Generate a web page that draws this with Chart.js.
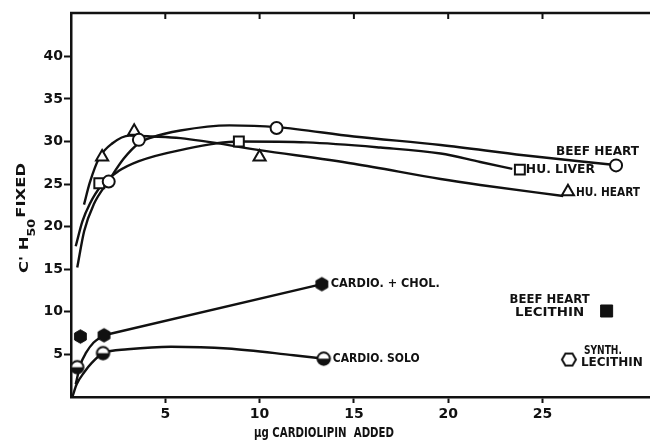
<!DOCTYPE html>
<html><head><meta charset="utf-8">
<script src="https://cdn.jsdelivr.net/npm/chart.js@4.4.1/dist/chart.umd.min.js"></script>
<style>html,body{margin:0;padding:0;background:#fff}canvas{display:block}</style>
</head><body>
<canvas id="c" width="650" height="441"></canvas>
<script>
// ---- Data (x = µg cardiolipin added, y = C'H50 fixed) ----
const xTickValues = [5, 10, 15, 20, 25];
const yTickValues = [5, 10, 15, 20, 25, 30, 35, 40];

const beefHeartPoints = [[2.0, 25.3], [3.6, 30.2], [10.9, 31.6], [28.9, 27.2]];
const huLiverPoints = [[1.5, 25.1], [8.9, 30.0], [23.8, 26.7]];
const huHeartPoints = [[1.65, 28.2], [3.35, 31.2], [10.0, 28.2], [26.35, 24.1]];
const cardioCholPoints = [[0.5, 7.1], [1.75, 7.25], [13.3, 13.25]];
const cardioSoloPoints = [[0.33, 3.5], [1.7, 5.15], [13.4, 4.5]];
const beefHeartLecithinPoints = [[28.4, 10.1]];
const synthLecithinPoints = [[26.4, 4.4]];

// fitted curves
const beefHeartCurve = [[0.33, 15.2], [0.7, 19.5], [1.2, 22.6], [2.0, 25.4], [2.8, 28.0], [3.6, 29.8], [4.3, 30.5], [5.8, 31.3], [8.4, 31.9], [10.9, 31.7], [15, 30.6], [19.6, 29.6], [24, 28.4], [28.6, 27.3]];
const huLiverCurve = [[0.25, 17.7], [0.6, 20.6], [1.0, 22.7], [1.6, 24.8], [2.5, 26.5], [3.6, 27.7], [5.8, 29.0], [8.9, 30.0], [12.5, 29.9], [16.4, 29.3], [19.6, 28.6], [21.7, 27.6], [23.4, 26.8]];
const huHeartCurve = [[0.69, 22.6], [1.0, 25.2], [1.5, 28.1], [2.2, 29.8], [3.1, 30.7], [4.3, 30.6], [5.8, 30.4], [10, 29.0], [15, 27.4], [19.6, 25.6], [21.7, 24.9], [26.1, 23.6]];
const cardioCholCurve = [[0.25, 1.5], [0.5, 3.8], [0.8, 5.2], [1.2, 6.4], [1.75, 7.25]];
const cardioCholLine = [[1.75, 7.25], [13.3, 13.25]];
const cardioSoloCurve = [[0.07, 0], [0.3, 1.5], [0.7, 2.9], [1.1, 4.0], [1.7, 5.15], [3.0, 5.6], [5.3, 5.9], [8.3, 5.7], [11.8, 4.9], [13.4, 4.5]];

// ---- helpers ----
const INK = '#111';
const toXY = arr => arr.map(p => ({x: p[0], y: p[1]}));

function hexCanvas(r, filled, lw, pointyTop) {
  const s = Math.ceil(2 * r + lw + 2);
  const c = document.createElement('canvas'); c.width = s; c.height = s;
  const g = c.getContext('2d');
  g.beginPath();
  for (let i = 0; i < 6; i++) {
    const a = Math.PI / 3 * i + (pointyTop ? Math.PI / 2 : 0);
    const px = s / 2 + r * Math.cos(a), py = s / 2 + r * Math.sin(a);
    i ? g.lineTo(px, py) : g.moveTo(px, py);
  }
  g.closePath();
  g.fillStyle = filled ? INK : '#fff'; g.fill();
  g.lineWidth = lw; g.strokeStyle = INK; g.stroke();
  return c;
}
function halfCircleCanvas(r, lw) {
  const s = Math.ceil(2 * r + lw + 2);
  const c = document.createElement('canvas'); c.width = s; c.height = s;
  const g = c.getContext('2d');
  g.beginPath(); g.arc(s / 2, s / 2, r, 0, Math.PI * 2); g.fillStyle = '#fff'; g.fill();
  g.beginPath(); g.arc(s / 2, s / 2, r, 0, Math.PI); g.closePath(); g.fillStyle = INK; g.fill();
  g.beginPath(); g.arc(s / 2, s / 2, r, 0, Math.PI * 2); g.lineWidth = lw; g.strokeStyle = INK; g.stroke();
  return c;
}

const curveDs = (pts, smooth) => ({
  type: 'line', data: toXY(pts), borderColor: INK, borderWidth: 2.4,
  pointRadius: 0, fill: false, cubicInterpolationMode: smooth ? 'monotone' : 'default', tension: 0, order: 2
});
const markerDs = (pts, style, radius, bg, bw) => ({
  type: 'scatter', data: toXY(pts), pointStyle: style, pointRadius: radius,
  pointBackgroundColor: bg, pointBorderColor: INK, pointBorderWidth: bw, showLine: false, order: 0
});

const datasets = [
  curveDs(beefHeartCurve, true),
  curveDs(huLiverCurve, true),
  curveDs(huHeartCurve, true),
  curveDs(cardioCholCurve, true),
  curveDs(cardioCholLine, false),
  curveDs(cardioSoloCurve, true),
  markerDs(beefHeartPoints, 'circle', 6, '#fff', 2),
  markerDs(huLiverPoints, 'rect', 7, '#fff', 2),
  markerDs(huHeartPoints, 'triangle', 7, '#fff', 2),
  markerDs(cardioCholPoints, hexCanvas(6.8, true, 1, true), 7, INK, 1),
  markerDs(cardioSoloPoints, halfCircleCanvas(6.2, 2), 7, '#fff', 2),
  markerDs(beefHeartLecithinPoints, 'rect', 8.5, INK, 1),
  markerDs(synthLecithinPoints, hexCanvas(7, false, 2, false), 7, '#fff', 2),
];

// text labels anchored to the data points (pixel offsets)
const LABEL_FONT = 'bold 12px "DejaVu Sans"';
const annotations = [
  {text: 'BEEF HEART', pts: beefHeartPoints, i: 3, dx: 23, dy: -14, align: 'right', w: 83},
  {text: 'HU. LIVER', pts: huLiverPoints, i: 2, dx: 6, dy: 0, align: 'left', w: 69},
  {text: 'HU. HEART', pts: huHeartPoints, i: 3, dx: 8, dy: 1, align: 'left', w: 64},
  {text: 'CARDIO. + CHOL.', pts: cardioCholPoints, i: 2, dx: 9, dy: 0, align: 'left', w: 109},
  {text: 'CARDIO. SOLO', pts: cardioSoloPoints, i: 2, dx: 9, dy: 0, align: 'left', w: 87},
  {text: 'BEEF HEART', pts: beefHeartLecithinPoints, i: 0, dx: -57, dy: -11, align: 'center', w: 80},
  {text: 'LECITHIN', pts: beefHeartLecithinPoints, i: 0, dx: -57, dy: 2, align: 'center', w: 69},
  {text: 'SYNTH.', pts: synthLecithinPoints, i: 0, dx: 15, dy: -9, align: 'left', w: 38},
  {text: 'LECITHIN', pts: synthLecithinPoints, i: 0, dx: 12, dy: 3, align: 'left', w: 62},
];

function fitText(ctx, text, x, y, align, w) {
  const m = ctx.measureText(text).width;
  const k = w ? w / m : 1;
  ctx.save();
  ctx.translate(x, y);
  ctx.scale(k, 1);
  ctx.textAlign = align; ctx.textBaseline = 'middle';
  ctx.fillText(text, 0, 0);
  ctx.restore();
}

const decorPlugin = {
  id: 'decor',
  afterDraw(chart) {
    const {ctx, chartArea: a, scales: {x, y}} = chart;
    ctx.save();
    ctx.strokeStyle = INK; ctx.fillStyle = INK;
    // top frame line with inward ticks
    ctx.lineWidth = 2.5;
    ctx.beginPath(); ctx.moveTo(a.left - 1, a.top); ctx.lineTo(a.right, a.top); ctx.stroke();
    ctx.lineWidth = 2;
    xTickValues.forEach(v => {
      const px = x.getPixelForValue(v);
      ctx.beginPath(); ctx.moveTo(px, a.top); ctx.lineTo(px, a.top + 6); ctx.stroke();
    });
    // labels
    ctx.font = LABEL_FONT;
    annotations.forEach(an => {
      const p = an.pts[an.i];
      fitText(ctx, an.text, x.getPixelForValue(p[0]) + an.dx, y.getPixelForValue(p[1]) + an.dy, an.align, an.w);
    });
    // x axis title
    ctx.font = 'bold 14px "DejaVu Sans"';
    fitText(ctx, 'µg CARDIOLIPIN  ADDED', 324, 433, 'center', 140);
    // y axis title (rotated), with subscript 50
    ctx.translate(25, 218);
    ctx.rotate(-Math.PI / 2);
    ctx.textBaseline = 'middle'; ctx.textAlign = 'left';
    const p1 = "C' H", p3 = 'FIXED';
    ctx.font = 'bold 10px "DejaVu Sans"';
    const w2 = ctx.measureText('50').width;
    ctx.font = 'bold 13px "DejaVu Sans"';
    const w1 = ctx.measureText(p1).width, w3 = ctx.measureText(p3).width;
    const total = w1 + w2 + 1 + w3;
    ctx.scale(110 / total, 1);
    let cx = -total / 2;
    ctx.fillText(p1, cx, 0); cx += w1;
    ctx.font = 'bold 10px "DejaVu Sans"';
    ctx.fillText('50', cx, 7); cx += w2 + 1;
    ctx.font = 'bold 13px "DejaVu Sans"';
    ctx.fillText(p3, cx, -3);
    ctx.restore();
  }
};

new Chart(document.getElementById('c'), {
  data: {datasets},
  options: {
    responsive: false, animation: false, devicePixelRatio: 1,
    layout: {autoPadding: false, padding: {top: 13, right: 0, left: 0, bottom: 0}},
    plugins: {legend: {display: false}, tooltip: {enabled: false}},
    scales: {
      x: {
        type: 'linear', min: 0, max: 30.7,
        afterBuildTicks: s => { s.ticks = xTickValues.map(v => ({value: v})); },
        afterFit: s => { s.height = 44; s.paddingLeft = 0; s.paddingRight = 0; },
        border: {display: true, color: INK, width: 2.5},
        grid: {drawOnChartArea: false, drawTicks: true, tickLength: 6, tickWidth: 2, color: INK},
        ticks: {color: INK, font: {family: 'DejaVu Sans', weight: 'bold', size: 14}, padding: 3, maxRotation: 0,
          callback: v => String(v)}
      },
      y: {
        type: 'linear', min: 0, max: 45.1,
        afterBuildTicks: s => { s.ticks = yTickValues.map(v => ({value: v})); },
        afterFit: s => { s.width = 71; s.paddingTop = 0; s.paddingBottom = 0; },
        border: {display: true, color: INK, width: 2.5},
        grid: {drawOnChartArea: false, drawTicks: true, tickLength: 7, tickWidth: 2, color: INK},
        ticks: {color: INK, font: {family: 'DejaVu Sans', weight: 'bold', size: 14}, padding: 1,
          callback: v => String(v)}
      }
    }
  },
  plugins: [decorPlugin]
});
</script>
</body></html>
